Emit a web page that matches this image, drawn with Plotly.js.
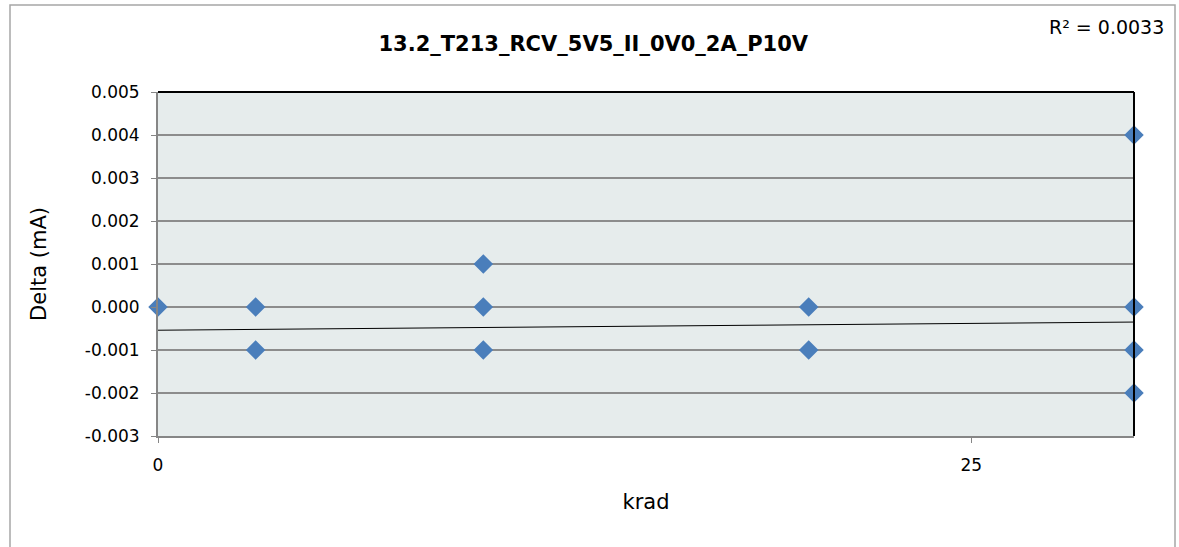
<!DOCTYPE html>
<html>
<head>
<meta charset="utf-8">
<script src="https://cdn.plot.ly/plotly-3.0.1.min.js"></script>
<style>
  html, body { margin: 0; padding: 0; background: #ffffff; }
  #chart { width: 1179px; height: 547px; }
</style>
</head>
<body>
<div id="chart"></div>
<script>
// Data
const kradValues  = [0, 3, 3, 10, 10, 10, 20, 20, 30, 30, 30, 30];
const deltaValues = [0.000, 0.000, -0.001, 0.001, 0.000, -0.001, 0.000, -0.001, 0.004, 0.000, -0.001, -0.002];

// Linear trendline endpoints as drawn in the reference
const trendX = [0, 30];
const trendY = [-0.00054, -0.00035];
const rSquaredText = 'R² = 0.0033';

const yTickValues = [-0.003, -0.002, -0.001, 0.000, 0.001, 0.002, 0.003, 0.004, 0.005];
const yTickLabels = ['-0.003', '-0.002', '-0.001', '0.000', '0.001', '0.002', '0.003', '0.004', '0.005'];
const xTickValues = [0, 25];
const xTickLabels = ['0', '25'];

const chartTitle = '13.2_T213_RCV_5V5_II_0V0_2A_P10V';
const xTitle = 'krad';
const yTitle = 'Delta (mA)';

const FONT = '"DejaVu Sans", "Open Sans", sans-serif';

const traces = [
  {
    x: trendX, y: trendY,
    type: 'scatter', mode: 'lines',
    line: { color: '#000000', width: 1 },
    hoverinfo: 'skip', showlegend: false
  },
  {
    x: kradValues, y: deltaValues,
    type: 'scatter', mode: 'markers',
    marker: { symbol: 'diamond', size: 15, color: '#4a7ebb', line: { width: 0 } },
    cliponaxis: false, showlegend: false
  }
];

const layout = {
  width: 1179, height: 547,
  margin: { l: 158, r: 45, t: 92, b: 111, pad: 0 },
  paper_bgcolor: '#ffffff',
  plot_bgcolor: '#e6ecec',
  font: { family: FONT, color: '#000000', size: 16 },
  showlegend: false,
  title: {
    text: '<b>' + chartTitle + '</b>',
    font: { family: FONT, size: 21, color: '#000000' },
    x: 0.446, xref: 'paper', xanchor: 'center',
    y: 1 - 44 / 547, yref: 'container', yanchor: 'middle'
  },
  xaxis: {
    range: [0, 30],
    tickvals: xTickValues, ticktext: xTickLabels,
    ticks: 'outside', ticklen: 5, tickcolor: '#868686', tickwidth: 1,
    ticklabelstandoff: 8,
    showgrid: false, zeroline: false,
    showline: true, linecolor: '#868686', linewidth: 2,
    tickfont: { family: FONT, size: 17, color: '#000000' },
    title: { text: xTitle, font: { family: FONT, size: 21, color: '#000000' }, standoff: 20 },
    automargin: false
  },
  yaxis: {
    range: [-0.003, 0.005],
    tickvals: yTickValues, ticktext: yTickLabels,
    ticks: 'outside', ticklen: 5, tickcolor: '#868686', tickwidth: 1,
    ticklabelstandoff: 8,
    showgrid: true, gridcolor: '#8c8c8c', gridwidth: 1.5,
    zeroline: false,
    showline: true, linecolor: '#868686', linewidth: 2,
    tickfont: { family: FONT, size: 17, color: '#000000' },
    title: { text: yTitle, font: { family: FONT, size: 21, color: '#000000' }, standoff: 32 },
    automargin: false
  },
  shapes: [
    { type: 'line', xref: 'paper', yref: 'paper', x0: 0, x1: 1, y0: 1, y1: 1, line: { color: '#000000', width: 2 } },
    { type: 'line', xref: 'paper', yref: 'paper', x0: 1, x1: 1, y0: 0, y1: 1, line: { color: '#000000', width: 2 } },
    { type: 'rect', xref: 'paper', yref: 'paper',
      x0: -148 / 976, x1: 1017 / 976, y0: -120 / 344, y1: 431 / 344,
      line: { color: '#a6a6a6', width: 1.5 }, fillcolor: 'rgba(0,0,0,0)', layer: 'below' }
  ],
  annotations: [
    { text: rSquaredText, xref: 'paper', yref: 'paper',
      x: 1008 / 976, y: (436 - 27) / 344, xanchor: 'right', yanchor: 'middle',
      showarrow: false, font: { family: FONT, size: 19, color: '#000000' } }
  ]
};

Plotly.newPlot('chart', traces, layout, { displayModeBar: false, staticPlot: true });
</script>
</body>
</html>
